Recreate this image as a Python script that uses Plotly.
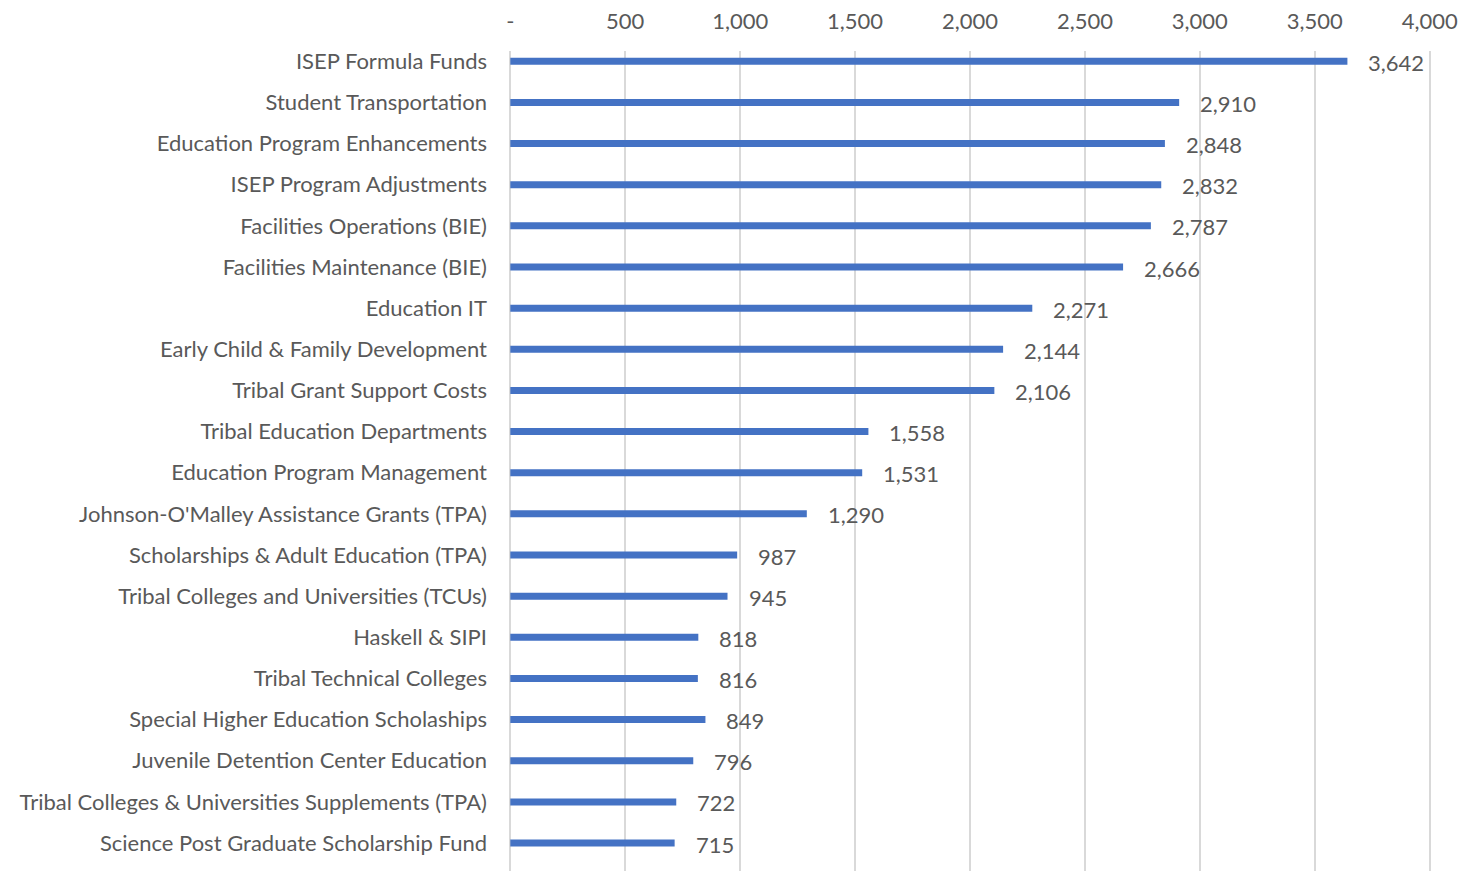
import plotly.graph_objects as go

categories = [
    "ISEP Formula Funds",
    "Student Transportation",
    "Education Program Enhancements",
    "ISEP Program Adjustments",
    "Facilities Operations (BIE)",
    "Facilities Maintenance (BIE)",
    "Education IT",
    "Early Child & Family Development",
    "Tribal Grant Support Costs",
    "Tribal Education Departments",
    "Education Program Management",
    "Johnson-O'Malley Assistance Grants (TPA)",
    "Scholarships & Adult Education (TPA)",
    "Tribal Colleges and Universities (TCUs)",
    "Haskell & SIPI",
    "Tribal Technical Colleges",
    "Special Higher Education Scholaships",
    "Juvenile Detention Center Education",
    "Tribal Colleges & Universities Supplements (TPA)",
    "Science Post Graduate Scholarship Fund",
]
values = [3642, 2910, 2848, 2832, 2787, 2666, 2271, 2144, 2106, 1558,
          1531, 1290, 987, 945, 818, 816, 849, 796, 722, 715]
tick_vals = [0, 500, 1000, 1500, 2000, 2500, 3000, 3500, 4000]
tick_text = ["-", "500", "1,000", "1,500", "2,000", "2,500", "3,000", "3,500", "4,000"]

FONT = "Lato"
TXT = "#595959"
FS = 22

fig = go.Figure()
fig.add_trace(go.Bar(
    x=values, y=categories, orientation="h",
    marker=dict(color="#4472C4", line=dict(width=0)),
    width=0.17,
    hoverinfo="x+y",
))
for c, v in zip(categories, values):
    fig.add_annotation(x=v, y=c, text=f"{v:,}", showarrow=False,
                       xanchor="left", yanchor="middle", xshift=19, yshift=-1,
                       font=dict(family=FONT, size=FS, color=TXT))

fig.update_layout(
    width=1462, height=871,
    margin=dict(l=508, r=30, t=51, b=0),
    paper_bgcolor="white", plot_bgcolor="white",
    showlegend=False,
    font=dict(family=FONT, size=FS, color=TXT),
    xaxis=dict(side="top", range=[-10, 4010], tickvals=tick_vals, ticktext=tick_text,
               showgrid=True, gridcolor="#D9D9D9", gridwidth=1.5, zeroline=False,
               showline=False, ticks="", ticklabelstandoff=17,
               tickfont=dict(family=FONT, size=FS, color=TXT)),
    yaxis=dict(type="category", categoryorder="array", categoryarray=categories,
               range=[19.68, -0.25], showgrid=False, zeroline=False, showline=False,
               ticks="", ticklabelstandoff=20,
               tickfont=dict(family=FONT, size=FS, color=TXT)),
)
fig.write_html(
    "out.html",
    config={"displayModeBar": False},
    post_script="document.body.style.margin='0';document.body.style.overflow='hidden';",
)
